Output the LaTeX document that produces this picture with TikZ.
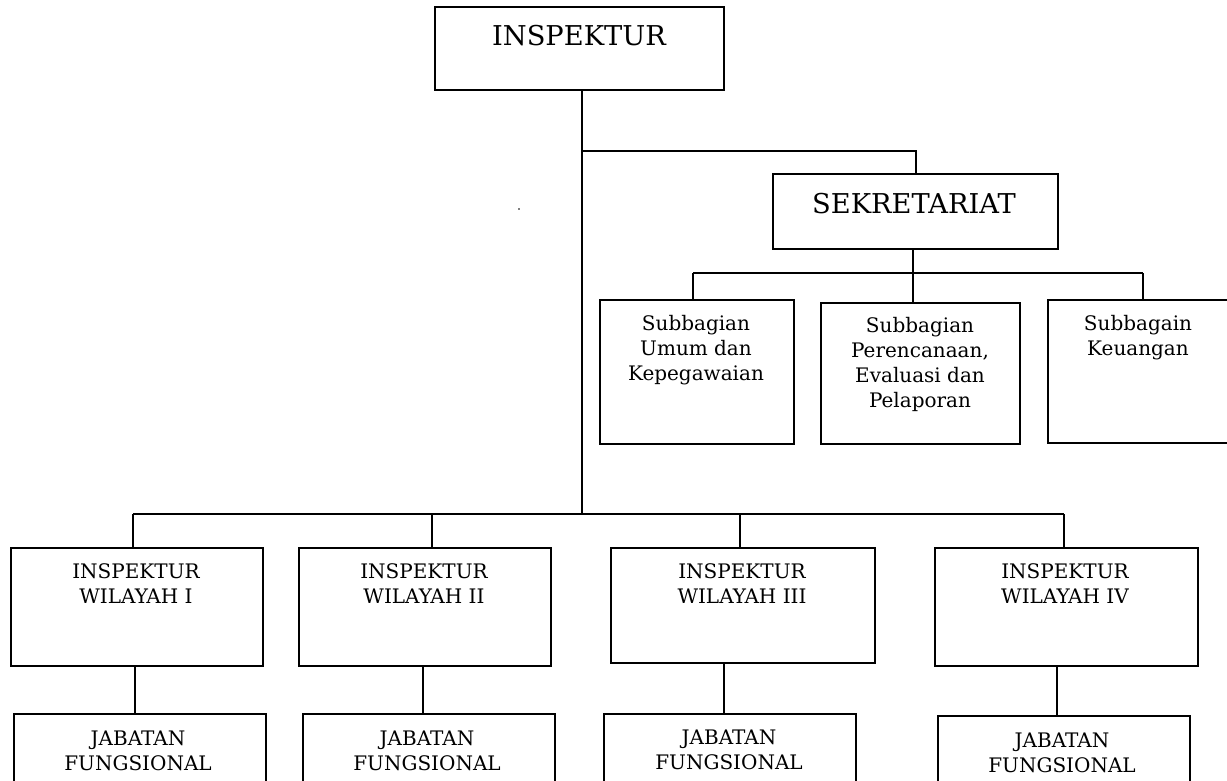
\documentclass[tikz,border=0pt]{standalone}
\usepackage{fontspec}
\setmainfont{DejaVu Serif}
\begin{document}
\begin{tikzpicture}[x=1pt,y=-1pt,
  box/.style={draw, line width=2pt, inner sep=0pt, anchor=north west},
  link/.style={line width=2pt},
  big/.style={font=\fontsize{27.3}{33}\selectfont, inner sep=0pt, anchor=base},
  small/.style={font=\fontsize{20}{25}\selectfont, inner sep=0pt, align=center, anchor=north}]
\useasboundingbox (0,0) rectangle (1227,780);
% boxes
\node[box, minimum width=289pt, minimum height=83pt] (insp) at (434,6) {};
\node[box, minimum width=285pt, minimum height=75pt] (sek) at (772,173) {};
\node[box, minimum width=194pt, minimum height=144pt] (sub1) at (599,299) {};
\node[box, minimum width=199pt, minimum height=141pt] (sub2) at (820,302) {};
\node[box, minimum width=182pt, minimum height=143pt] (sub3) at (1047,299) {};
\node[box, minimum width=252pt, minimum height=118pt] (w1) at (10,547) {};
\node[box, minimum width=252pt, minimum height=118pt] (w2) at (298,547) {};
\node[box, minimum width=264pt, minimum height=115pt] (w3) at (610,547) {};
\node[box, minimum width=263pt, minimum height=118pt] (w4) at (934,547) {};
\node[box, minimum width=252pt, minimum height=100pt] (j1) at (13,713) {};
\node[box, minimum width=252pt, minimum height=100pt] (j2) at (302,713) {};
\node[box, minimum width=252pt, minimum height=100pt] (j3) at (603,713) {};
\node[box, minimum width=252pt, minimum height=100pt] (j4) at (937,715) {};
% texts
\node[big] (tinsp) at (579,45) {INSPEKTUR};
\node[big] (tsek) at (914,213) {SEKRETARIAT};
\node[small] (tsub1) at (696,312.5) {\strut Subbagian\\Umum dan\\Kepegawaian};
\node[small] (tsub2) at (920,314.5) {\strut Subbagian\\Perencanaan,\\Evaluasi dan\\Pelaporan};
\node[small] (tsub3) at (1138,312.5) {\strut Subbagain\\Keuangan};
\node[small] (tw1) at (136,560.5) {\strut INSPEKTUR\\WILAYAH I};
\node[small] (tw2) at (424,560.5) {\strut INSPEKTUR\\WILAYAH II};
\node[small] (tw3) at (742,560.5) {\strut INSPEKTUR\\WILAYAH III};
\node[small] (tw4) at (1065,560.5) {\strut INSPEKTUR\\WILAYAH IV};
\node[small] (tj1) at (138,727.5) {\strut JABATAN\\FUNGSIONAL};
\node[small] (tj2) at (427,727.5) {\strut JABATAN\\FUNGSIONAL};
\node[small] (tj3) at (729,727) {\strut JABATAN\\FUNGSIONAL};
\node[small] (tj4) at (1062,729.5) {\strut JABATAN\\FUNGSIONAL};
% connector coordinates
\coordinate (t1) at (582,151);
\coordinate (t2) at (582,514);
\coordinate (s0) at (913,273);
\coordinate (s1) at (693,273);
\coordinate (s3) at (1143,273);
\coordinate (b1) at (133,514);
\coordinate (b2) at (432,514);
\coordinate (b3) at (740,514);
\coordinate (b4) at (1064,514);
\coordinate (v1) at (135,0);
\coordinate (v2) at (423,0);
\coordinate (v3) at (724,0);
\coordinate (v4) at (1057,0);
% connectors
\draw[link] (insp.south -| t1) -- (t2);
\draw[link] (t1) -| (sek.north);
\draw[link] (sek.south -| s0) -- (sub2.north -| s0);
\draw[link] (s1) -- (s3);
\draw[link] (s1) -- (sub1.north -| s1);
\draw[link] (s3) -- (sub3.north -| s3);
\draw[link] (b1) -- (b4);
\draw[link] (b1) -- (w1.north -| b1);
\draw[link] (b2) -- (w2.north -| b2);
\draw[link] (b3) -- (w3.north -| b3);
\draw[link] (b4) -- (w4.north -| b4);
\draw[link] (w1.south -| v1) -- (j1.north -| v1);
\draw[link] (w2.south -| v2) -- (j2.north -| v2);
\draw[link] (w3.south -| v3) -- (j3.north -| v3);
\draw[link] (w4.south -| v4) -- (j4.north -| v4);
% stray dot
\fill[gray] (518,208) rectangle (520,210);
\end{tikzpicture}
\end{document}
